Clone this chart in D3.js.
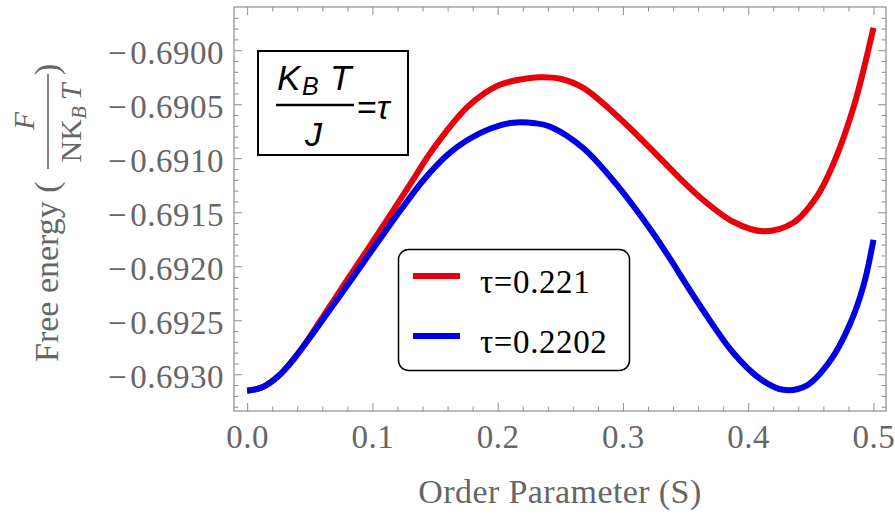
<!DOCTYPE html>
<html lang="en">
<head>
<meta charset="UTF-8">
<title>Free energy vs order parameter</title>
<script src="https://d3js.org/d3.v7.min.js"></script>
<style>
  body { margin: 0; background: #fff; }
  svg { display: block; }
  .tick line { stroke: #8e8e8e; }
  .tick text { fill: #666; font-family: "Liberation Serif", "Times New Roman", serif; font-size: 33px; letter-spacing: 0.5px; }
</style>
</head>
<body>
<svg id="chart" width="895" height="514"></svg>
<script>
  // values
  const sRed = [0, 0.012, 0.025, 0.038, 0.05, 0.062, 0.0805, 0.0992, 0.1165, 0.1324, 0.148, 0.1753, 0.190,
    0.2017, 0.217, 0.2336, 0.25, 0.268, 0.2951, 0.3215, 0.345, 0.361, 0.388, 0.412, 0.436, 0.4547, 0.4677,
    0.484, 0.5];
  const fRed = [-0.693153, -0.693121, -0.693016, -0.692847, -0.692653, -0.692440, -0.692116, -0.691792,
    -0.691486, -0.691199, -0.690921, -0.690532, -0.690394, -0.690319, -0.690273, -0.690250, -0.690264,
    -0.690347, -0.690606, -0.690903, -0.691181, -0.691356, -0.691588, -0.691676, -0.691597, -0.691356,
    -0.691060, -0.690532, -0.689792];

  const sBlue = [0, 0.012, 0.025, 0.038, 0.05, 0.065, 0.085, 0.103, 0.123, 0.141, 0.160, 0.175, 0.195, 0.212,
    0.230, 0.242, 0.268, 0.295, 0.321, 0.335, 0.361, 0.388, 0.410, 0.428, 0.447, 0.466, 0.481, 0.492, 0.500];
  const fBlue = [-0.693153, -0.693121, -0.693016, -0.692847, -0.692662, -0.692419, -0.692094, -0.691797,
    -0.691473, -0.691199, -0.690968, -0.690838, -0.690722, -0.690671, -0.690676, -0.690708, -0.690903,
    -0.691245, -0.691644, -0.691884, -0.692356, -0.692801, -0.693046, -0.693144, -0.693102, -0.692866,
    -0.692542, -0.692181, -0.691755];

  const seriesLabels = ["τ=0.221", "τ=0.2202"];
  const seriesColors = ["#e8000b", "#0000e6"];

  const xTicks = [0, 0.1, 0.2, 0.3, 0.4, 0.5];
  const yTicks = [-0.6930, -0.6925, -0.6920, -0.6915, -0.6910, -0.6905, -0.6900];

  const svg = d3.select("#chart");
  const pLeft = 234, pRight = 886, pTop = 7, pBottom = 411;

  const x = d3.scaleLinear().domain([-0.0105, 0.51]).range([pLeft, pRight]);
  const y = d3.scaleLinear().domain([-0.69334, -0.68960]).range([pBottom, pTop]);

  const xMinor = d3.range(0, 26).map(i => i * 0.02).filter(d => Math.round(d * 100) % 10 !== 0);
  const yMinor = d3.range(6897, 6934).map(i => -i / 10000).filter(d => Math.round(d * 1e4) % 5 !== 0);

  const f4 = d3.format(".4f");
  const yFormat = d => "\u2212\u200A" + f4(Math.abs(d));

  function strip(g) { g.select(".domain").remove(); }

  // bottom
  svg.append("g").attr("transform", `translate(0,${pBottom})`)
    .call(d3.axisBottom(x).tickValues(xMinor).tickSize(-4.5).tickFormat("")).call(strip);
  svg.append("g").attr("transform", `translate(0,${pBottom})`)
    .call(d3.axisBottom(x).tickValues(xTicks).tickSize(-8).tickFormat(d3.format(".1f")))
    .call(strip)
    .call(g => g.selectAll("text").attr("y", 36.5).attr("dy", null));
  // top
  svg.append("g").attr("transform", `translate(0,${pTop})`)
    .call(d3.axisTop(x).tickValues(xMinor).tickSize(-4.5).tickFormat("")).call(strip);
  svg.append("g").attr("transform", `translate(0,${pTop})`)
    .call(d3.axisTop(x).tickValues(xTicks).tickSize(-8).tickFormat("")).call(strip);
  // left
  svg.append("g").attr("transform", `translate(${pLeft},0)`)
    .call(d3.axisLeft(y).tickValues(yMinor).tickSize(-4.5).tickFormat("")).call(strip);
  svg.append("g").attr("transform", `translate(${pLeft},0)`)
    .call(d3.axisLeft(y).tickValues(yTicks).tickSize(-8).tickFormat(yFormat))
    .call(strip)
    .call(g => g.selectAll("text").attr("x", -10).attr("dy", null).attr("y", 13));
  // right
  svg.append("g").attr("transform", `translate(${pRight},0)`)
    .call(d3.axisRight(y).tickValues(yMinor).tickSize(-4.5).tickFormat("")).call(strip);
  svg.append("g").attr("transform", `translate(${pRight},0)`)
    .call(d3.axisRight(y).tickValues(yTicks).tickSize(-8).tickFormat("")).call(strip);

  svg.append("rect")
    .attr("x", pLeft).attr("y", pTop)
    .attr("width", pRight - pLeft).attr("height", pBottom - pTop)
    .attr("fill", "none").attr("stroke", "#8e8e8e").attr("stroke-width", 1.2);

  // curves (red under blue)
  const line = d3.line()
    .x(d => x(d[0]))
    .y(d => y(d[1]))
    .curve(d3.curveCatmullRom.alpha(0.5));

  const curves = [d3.zip(sRed, fRed), d3.zip(sBlue, fBlue)];
  svg.append("g")
    .attr("fill", "none")
    .attr("stroke-width", 6)
    .selectAll("path")
    .data(curves)
    .join("path")
    .attr("stroke", (d, i) => seriesColors[i])
    .attr("d", line);

  // axis titles
  const serif = '"Liberation Serif", "Times New Roman", serif';
  svg.append("text")
    .attr("x", (pLeft + pRight) / 2).attr("y", 503)
    .attr("text-anchor", "middle")
    .attr("font-family", serif).attr("font-size", 34).attr("letter-spacing", 0.4).attr("fill", "#666")
    .text("Order Parameter (S)");

  const yl = svg.append("g")
    .attr("transform", "translate(58,362) rotate(-90)")
    .attr("font-family", serif).attr("fill", "#666");
  yl.append("text").attr("x", 0).attr("y", 0).attr("font-size", 34).text("Free energy (");
  yl.append("line").attr("x1", 193).attr("x2", 288).attr("y1", -10).attr("y2", -10)
    .attr("stroke", "#666").attr("stroke-width", 1.6);
  yl.append("text").attr("x", 241).attr("y", -24).attr("text-anchor", "middle")
    .attr("font-size", 29).attr("font-style", "italic").text("F");
  const den = yl.append("text").attr("x", 239).attr("y", 23).attr("text-anchor", "middle").attr("font-size", 30);
  den.append("tspan").text("NK");
  den.append("tspan").attr("font-size", 21).attr("font-style", "italic").attr("dy", 5).text("B");
  den.append("tspan").attr("font-style", "italic").attr("dy", -5).text("\u2009T");
  yl.append("text").attr("x", 287).attr("y", 0).attr("font-size", 34).text(")");

  // formula inset
  const sans = '"Liberation Sans", Arial, sans-serif';
  const fb = svg.append("g").attr("font-family", sans).attr("font-style", "italic").attr("fill", "#000");
  fb.append("rect").attr("x", 258).attr("y", 51).attr("width", 150).attr("height", 104)
    .attr("fill", "#fff").attr("stroke", "#000").attr("stroke-width", 2);
  fb.append("text").attr("x", 277).attr("y", 90).attr("font-size", 35).text("K");
  fb.append("text").attr("x", 302).attr("y", 95).attr("font-size", 25).text("B");
  fb.append("text").attr("x", 330).attr("y", 90).attr("font-size", 35).text("T");
  fb.append("line").attr("x1", 276).attr("x2", 354).attr("y1", 105).attr("y2", 105)
    .attr("stroke", "#000").attr("stroke-width", 2.5);
  fb.append("text").attr("x", 305).attr("y", 146).attr("font-size", 34).text("J");
  fb.append("text").attr("x", 357).attr("y", 119).attr("font-size", 34)
    .html('<tspan font-style="normal">=</tspan>τ');

  // legend
  const lg = svg.append("g");
  lg.append("rect").attr("x", 398.5).attr("y", 249.5).attr("width", 231).attr("height", 121)
    .attr("rx", 10).attr("fill", "#fff").attr("stroke", "#000").attr("stroke-width", 1.5);
  const items = lg.selectAll("g.item")
    .data(seriesLabels)
    .join("g")
    .attr("class", "item")
    .attr("transform", (d, i) => `translate(0,${276 + i * 60})`);
  items.append("line")
    .attr("x1", 413).attr("x2", 460)
    .attr("stroke", (d, i) => seriesColors[i]).attr("stroke-width", 6);
  items.append("text")
    .attr("x", 480).attr("y", 17)
    .attr("font-family", serif).attr("font-size", 33).attr("letter-spacing", 0.6).attr("fill", "#000")
    .text(d => d);
</script>
</body>
</html>
